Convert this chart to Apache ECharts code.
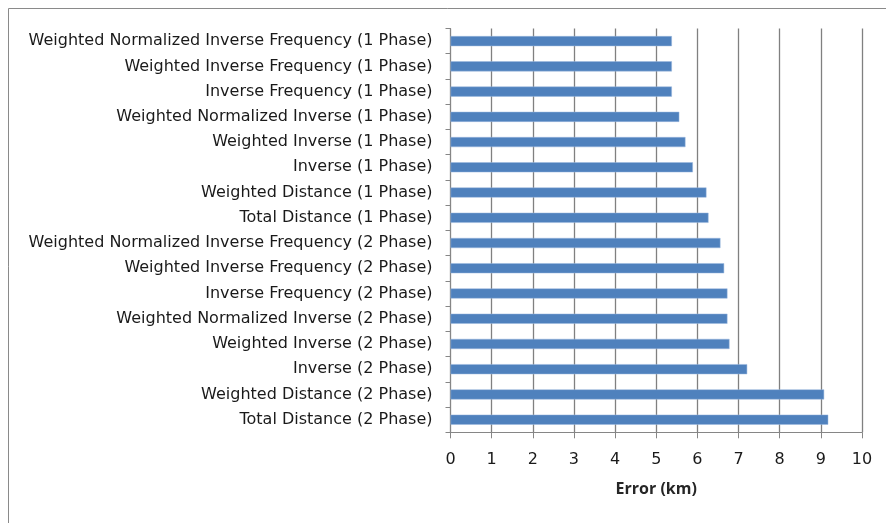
<!DOCTYPE html>
<html>
<head>
<meta charset="utf-8">
<script src="https://cdn.jsdelivr.net/npm/echarts@6/dist/echarts.min.js"></script>
<style>
html,body{margin:0;padding:0;background:#fff;}
#chart{width:886px;height:523px;}
</style>
</head>
<body>
<div id="chart"></div>
<script>
// Categories listed bottom-to-top (ECharts category y axis starts at bottom)
const categories = [
  "Total Distance (2 Phase)",
  "Weighted Distance (2 Phase)",
  "Inverse (2 Phase)",
  "Weighted Inverse (2 Phase)",
  "Weighted Normalized Inverse (2 Phase)",
  "Inverse Frequency (2 Phase)",
  "Weighted Inverse Frequency (2 Phase)",
  "Weighted Normalized Inverse Frequency (2 Phase)",
  "Total Distance (1 Phase)",
  "Weighted Distance (1 Phase)",
  "Inverse (1 Phase)",
  "Weighted Inverse (1 Phase)",
  "Weighted Normalized Inverse (1 Phase)",
  "Inverse Frequency (1 Phase)",
  "Weighted Inverse Frequency (1 Phase)",
  "Weighted Normalized Inverse Frequency (1 Phase)"
];
const errorKm = [9.18, 9.08, 7.21, 6.78, 6.73, 6.73, 6.65, 6.56, 6.27, 6.22, 5.89, 5.71, 5.56, 5.38, 5.38, 5.38];
const xAxisName = "Error (km)";

const chart = echarts.init(document.getElementById('chart'), null, {renderer: 'canvas'});
const font = "'DejaVu Sans', sans-serif";
const font2 = "'Open Sans', 'DejaVu Sans', sans-serif";
chart.setOption({
  animation: false,
  backgroundColor: '#ffffff',
  graphic: [{
    type: 'rect',
    shape: {x: 8.5, y: 8.5, width: 920, height: 600},
    style: {fill: 'none', stroke: '#8a8a8a', lineWidth: 1},
    silent: true
  }],
  grid: {left: 450.5, right: 24, top: 28.5, bottom: 90.7, containLabel: false},
  xAxis: {
    type: 'value',
    min: 0, max: 10, interval: 1,
    name: xAxisName,
    nameLocation: 'middle',
    nameGap: 49,
    nameTextStyle: {fontFamily: font2, fontSize: 16, fontWeight: 'bold', color: '#262626'},
    axisLine: {show: true, lineStyle: {color: '#868686', width: 1}},
    axisTick: {show: true, length: 6, lineStyle: {color: '#868686'}},
    axisLabel: {fontFamily: font, fontSize: 16, color: '#1a1a1a', margin: 20},
    splitLine: {show: true, lineStyle: {color: '#808080', width: 1.3}}
  },
  yAxis: {
    type: 'category',
    data: categories,
    axisLine: {show: true, lineStyle: {color: '#868686', width: 1}},
    axisTick: {show: true, length: 5, inside: false, lineStyle: {color: '#868686'}},
    axisLabel: {fontFamily: font, fontSize: 16, color: '#1a1a1a', margin: 18},
    splitLine: {show: false}
  },
  series: [{
    type: 'bar',
    data: errorKm,
    barWidth: '40%',
    itemStyle: {color: '#4F81BD', borderColor: '#9DB9DE', borderWidth: 0.5}
  }]
});
</script>
</body>
</html>
